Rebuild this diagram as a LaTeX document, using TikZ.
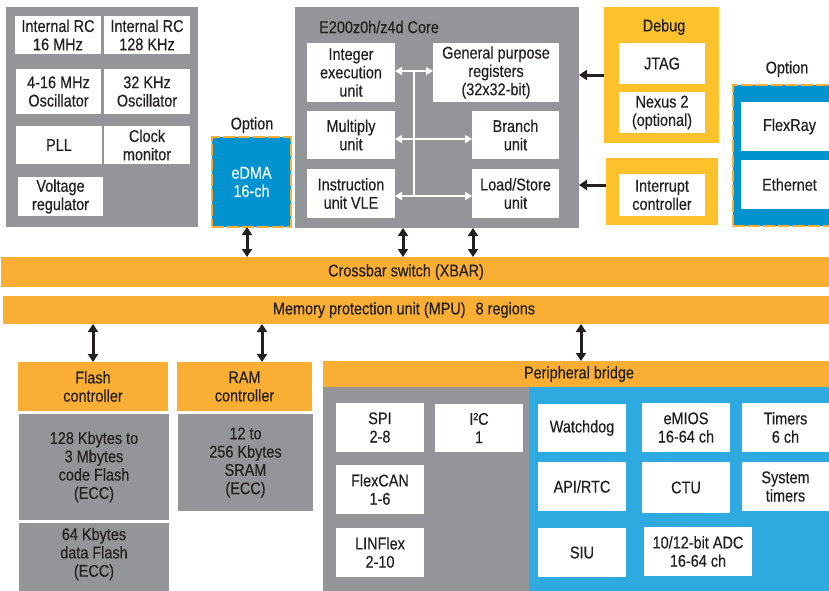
\documentclass[tikz,border=0pt]{standalone}
\usepackage{fontspec}
\setmainfont{Liberation Sans}[FakeStretch=0.85,FakeBold=0.3]
\usetikzlibrary{arrows.meta}
\definecolor{gr}{HTML}{939598}
\definecolor{orng}{HTML}{FAAF34}
\definecolor{yel}{HTML}{FDC22B}
\definecolor{dblue}{HTML}{0093D0}
\definecolor{lblue}{HTML}{2EAAE1}
\definecolor{txt}{HTML}{231F20}
\newcommand\mybox[7][]{\node[box,#1,minimum width={#5-#3},minimum height={#6-#4}] (#2) at (#3,#4) {#7};}
\begin{document}
\begin{tikzpicture}[x=1pt,y=-1pt,
  every node/.style={text=txt, font=\fontsize{17}{18.3}\selectfont},
  box/.style={anchor=north west, inner sep=0pt, outer sep=0pt, align=center, fill=white},
  graybg/.style={fill=gr},
  orngbg/.style={fill=orng},
  yelbg/.style={fill=yel},
  optbox/.style={draw=orng, line width=2pt, dash pattern=on 12pt off 3pt},
  barrow/.style={draw=txt, line width=3pt, arrows={Triangle[length=8pt,width=10pt]-Triangle[length=8pt,width=10pt]}},
  larrow/.style={draw=txt, line width=3pt, arrows={-Triangle[length=8pt,width=10pt]}},
  wline/.style={draw=white, line width=2.5pt},
  warrow/.style={draw=white, line width=2.5pt, arrows={Triangle[length=7pt,width=8pt]-Triangle[length=7pt,width=8pt]}},
  lbl/.style={inner sep=0pt}
]
\clip (0,0) rectangle (829,590);
\fill[white] (0,0) rectangle (829,590);

% clock block
\mybox[graybg]{clk}{6}{7}{198}{227}{}
\mybox{irc16}{15}{16}{101}{54}{Internal RC\\16 MHz}
\mybox{irc128}{104}{16}{190}{54}{Internal RC\\128 KHz}
\mybox{osc416}{16}{69}{101}{114}{4-16 MHz\\Oscillator}
\mybox{osc32}{104}{69}{190}{114}{32 KHz\\Oscillator}
\mybox{pll}{16}{126}{102}{164}{PLL}
\mybox{clkmon}{104}{126}{190}{164}{Clock\\monitor}
\mybox{vreg}{18}{177}{103}{216}{Voltage\\regulator}

% eDMA
\node[lbl] (opt1) at (252,125) {Option};
\mybox[fill=dblue,optbox,text=white]{edma}{212}{137}{291}{227}{eDMA\\16-ch}

% core
\mybox[graybg]{core}{295}{7}{579}{228}{}
\node[lbl,anchor=west] (coretitle) at (319,27) {E200z0h/z4d Core};
\mybox{ieu}{307}{43}{395}{102}{Integer\\execution\\unit}
\mybox{gpr}{433}{43}{559}{102}{General purpose\\registers\\(32x32-bit)}
\mybox{mul}{307}{111}{395}{159}{Multiply\\unit}
\mybox{bra}{472}{111}{559}{159}{Branch\\unit}
\mybox{iu}{307}{169}{395}{218}{Instruction\\unit VLE}
\mybox{lsu}{472}{169}{559}{218}{Load/Store\\unit}
\coordinate (busT) at (414,71);
\coordinate (busB) at (414,196);
\draw[wline] (busT) -- (busB);
\draw[warrow] (ieu.east |- busT) -- (gpr.west |- busT);
\draw[warrow] (mul.east |- 0,139) -- (bra.west |- 0,139);
\draw[warrow] (iu.east |- busB) -- (lsu.west |- busB);

% debug
\mybox[yelbg]{dbg}{604}{7}{719}{143}{}
\node[lbl] (dbgtitle) at (664,27) {Debug};
\mybox{jtag}{619}{43}{705}{84}{JTAG}
\mybox{nexus}{619}{92}{705}{133}{Nexus 2\\(optional)}
\mybox[yelbg]{intc}{606}{158}{718}{225}{}
\mybox{intcin}{619}{174}{705}{216}{Interrupt\\controller}

% option right
\node[lbl] (opt2) at (787,69) {Option};
\mybox[fill=dblue,optbox]{optr}{733}{85}{845}{226}{}
\mybox{flexray}{741}{102}{838}{151}{FlexRay}
\mybox{eth}{741}{160}{838}{209}{Ethernet}

% buses
\mybox[orngbg]{xbar}{1}{257}{835}{287}{}
\node[lbl] (xbart) at (406,272) {Crossbar switch (XBAR)};
\mybox[orngbg]{mpu}{3}{296}{835}{324}{}
\node[lbl] (mput) at (404,310) {Memory protection unit (MPU)\hspace{6pt} 8 regions};

% memories
\mybox[orngbg]{flashc}{18}{362}{168}{411}{Flash\\controller}
\mybox[graybg]{cflash}{19}{414}{169}{520}{128 Kbytes to\\3 Mbytes\\code Flash\\(ECC)}
\mybox[graybg]{dflash}{19}{523}{169}{596}{}
\node[lbl,align=center] (dflasht) at (94,554) {64 Kbytes\\data Flash\\(ECC)};
\mybox[orngbg]{ramc}{177}{362}{312}{411}{RAM\\controller}
\mybox[graybg]{sram}{178}{414}{313}{511}{12 to\\256 Kbytes\\SRAM\\(ECC)}

% peripherals
\mybox[orngbg]{pb}{323}{361}{835}{387}{Peripheral bridge}
\mybox[graybg]{pgray}{323}{387}{529}{596}{}
\mybox[fill=lblue]{pblue}{529}{387}{835}{596}{}
\mybox{spi}{336}{403}{424}{452}{SPI\\2-8}
\mybox{i2c}{435}{404}{523}{452}{I²C\\1}
\mybox{flexcan}{336}{465}{424}{514}{FlexCAN\\1-6}
\mybox{linflex}{336}{528}{424}{577}{LINFlex\\2-10}
\mybox{wdog}{538}{404}{626}{452}{Watchdog}
\mybox{emios}{642}{403}{730}{452}{eMIOS\\16-64 ch}
\mybox{timers}{742}{403}{829}{452}{Timers\\6 ch}
\mybox{apirtc}{538}{462}{626}{511}{API/RTC}
\mybox{ctu}{642}{462}{730}{513}{CTU}
\mybox{systim}{742}{462}{829}{511}{System\\timers}
\mybox{siu}{538}{528}{626}{577}{SIU}
\mybox{adc}{644}{527}{752}{576}{10/12-bit ADC\\16-64 ch}

% black connectors
\draw[barrow] (247,0 |- edma.south) -- (247,0 |- xbar.north);
\draw[barrow] (403,0 |- core.south) -- (403,0 |- xbar.north);
\draw[barrow] (473,0 |- core.south) -- (473,0 |- xbar.north);
\draw[barrow] (93,0 |- mpu.south) -- (93,0 |- flashc.north);
\draw[barrow] (262,0 |- mpu.south) -- (262,0 |- ramc.north);
\draw[barrow] (581,0 |- mpu.south) -- (581,0 |- pb.north);
\draw[larrow] (dbg.west |- 0,75) -- (core.east |- 0,75);
\draw[larrow] (intc.west |- 0,185) -- (core.east |- 0,185);
\end{tikzpicture}
\end{document}
